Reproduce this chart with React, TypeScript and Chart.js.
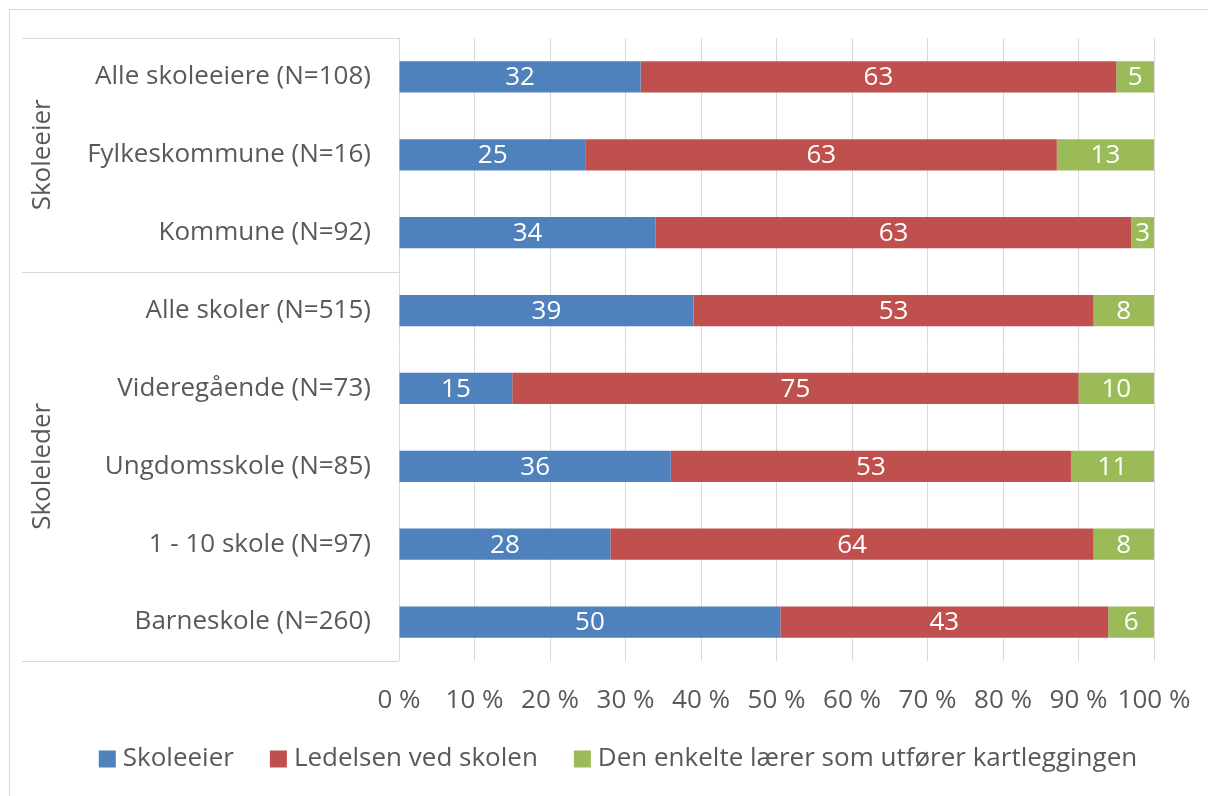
import { useEffect, useRef } from 'react';
import { Chart, registerables } from 'chart.js';

Chart.register(...registerables);

const categories = [
  'Alle skoleeiere (N=108)',
  'Fylkeskommune (N=16)',
  'Kommune (N=92)',
  'Alle skoler (N=515)',
  'Videregående (N=73)',
  'Ungdomsskole (N=85)',
  '1 - 10 skole (N=97)',
  'Barneskole (N=260)',
];
const groupNames = ['Skoleeier', 'Skoleleder'];
const groupSizes = [3, 5];
const seriesNames = ['Skoleeier', 'Ledelsen ved skolen', 'Den enkelte lærer som utfører kartleggingen'];
const skoleeierValues = [32, 25, 34, 39, 15, 36, 28, 50];
const ledelsenValues = [63, 63, 63, 53, 75, 53, 64, 43];
const laererValues = [5, 13, 3, 8, 10, 11, 8, 6];
const seriesColors = ['#4F81BD', '#C0504D', '#9BBB59'];

const FONT = '"Open Sans", sans-serif';
const FS = 26;
const TEXT = '#595959';
const LINE = '#d9d9d9';

const rawSeries = [skoleeierValues, ledelsenValues, laererValues];
const totals = categories.map((_, i) => rawSeries.reduce((s, arr) => s + arr[i], 0));

const decorPlugin = {
  id: 'decor',
  beforeDraw(chart: any) {
    const { ctx } = chart;
    ctx.save();
    ctx.strokeStyle = LINE;
    ctx.lineWidth = 1;
    ctx.strokeRect(9.5, 9.5, 1300, 900);
    ctx.restore();
  },
  afterDatasetsDraw(chart: any) {
    const { ctx } = chart;
    ctx.save();
    ctx.fillStyle = '#ffffff';
    ctx.font = `${FS}px ${FONT}`;
    ctx.textAlign = 'center';
    ctx.textBaseline = 'middle';
    chart.data.datasets.forEach((ds: any, di: number) => {
      const meta = chart.getDatasetMeta(di);
      meta.data.forEach((bar: any, i: number) => {
        const v = ds.raw[i];
        const cx = (bar.x + bar.base) / 2;
        ctx.fillText(String(v), cx, bar.y + 1);
      });
    });
    ctx.restore();
  },
  afterDraw(chart: any) {
    const { ctx, chartArea } = chart;
    const yScale = chart.scales.y;
    ctx.save();
    ctx.strokeStyle = LINE;
    ctx.lineWidth = 1;
    const x0 = 22;
    const xl = chartArea.left;
    const bounds: number[] = [chartArea.top];
    let idx = 0;
    groupSizes.forEach((n, g) => {
      idx += n;
      if (g < groupSizes.length - 1) {
        bounds.push((yScale.getPixelForValue(idx - 1) + yScale.getPixelForValue(idx)) / 2);
      }
    });
    bounds.push(chartArea.bottom);
    bounds.forEach((y) => {
      const yy = Math.round(y) + 0.5;
      ctx.beginPath();
      ctx.moveTo(x0, yy);
      ctx.lineTo(xl, yy);
      ctx.stroke();
    });
    ctx.fillStyle = TEXT;
    ctx.font = `${FS}px ${FONT}`;
    ctx.textAlign = 'center';
    ctx.textBaseline = 'middle';
    groupNames.forEach((name, g) => {
      const cy = (bounds[g] + bounds[g + 1]) / 2;
      ctx.save();
      ctx.translate(43, cy);
      ctx.rotate(-Math.PI / 2);
      ctx.fillText(name, 0, 0);
      ctx.restore();
    });

    // legend
    const box = 17;
    const gapBox = 7;
    const gapItem = 36;
    const widths = seriesNames.map((n) => ctx.measureText(n).width);
    const total = widths.reduce((s, w) => s + box + gapBox + w, 0) + gapItem * (seriesNames.length - 1);
    let x = 618 - total / 2;
    const cy = 759;
    ctx.textAlign = 'left';
    seriesNames.forEach((n, i) => {
      ctx.fillStyle = seriesColors[i];
      ctx.fillRect(x, cy - box / 2, box, box);
      ctx.fillStyle = TEXT;
      ctx.fillText(n, x + box + gapBox, cy);
      x += box + gapBox + widths[i] + gapItem;
    });
    ctx.restore();
  },
};

export default function App() {
  const ref = useRef<HTMLCanvasElement | null>(null);
  useEffect(() => {
    if (!ref.current) return;
    const chart = new Chart(ref.current, {
      type: 'bar',
      data: {
        labels: categories,
        datasets: rawSeries.map((arr, si) => ({
          label: seriesNames[si],
          data: arr.map((v, i) => (v / totals[i]) * 100),
          raw: arr,
          backgroundColor: seriesColors[si],
          borderWidth: 0,
          categoryPercentage: 1,
          barPercentage: 0.4,
        })) as any,
      },
      options: {
        indexAxis: 'y',
        responsive: false,
        animation: false,
        layout: { padding: { left: 0, top: 38, right: 54, bottom: 0 } },
        plugins: {
          legend: { display: false },
          tooltip: { enabled: false },
        },
        scales: {
          x: {
            stacked: true,
            min: 0,
            max: 100,
            ticks: {
              stepSize: 10,
              autoSkip: false,
              color: TEXT,
              font: { family: FONT, size: FS },
              padding: 24,
              maxRotation: 0,
              minRotation: 0,
              callback: (v: any) => `${v} %`,
            },
            grid: { color: LINE, lineWidth: 1, drawTicks: false },
            border: { display: false },
            afterFit: (scale: any) => {
              scale.height = 135;
              scale.paddingLeft = 0;
              scale.paddingRight = 0;
            },
          },
          y: {
            stacked: true,
            ticks: {
              color: TEXT,
              font: { family: FONT, size: FS },
              padding: 28,
            },
            grid: { display: false, drawTicks: false },
            border: { display: false },
            afterFit: (scale: any) => {
              scale.width = 399;
              scale.paddingTop = 0;
              scale.paddingBottom = 0;
            },
          },
        },
      },
      plugins: [decorPlugin],
    });
    return () => chart.destroy();
  }, []);
  return (
    <div style={{ position: 'fixed', left: 0, top: 0, width: 1208, height: 796, background: '#fff' }}>
      <canvas ref={ref} width={1208} height={796} />
    </div>
  );
}
